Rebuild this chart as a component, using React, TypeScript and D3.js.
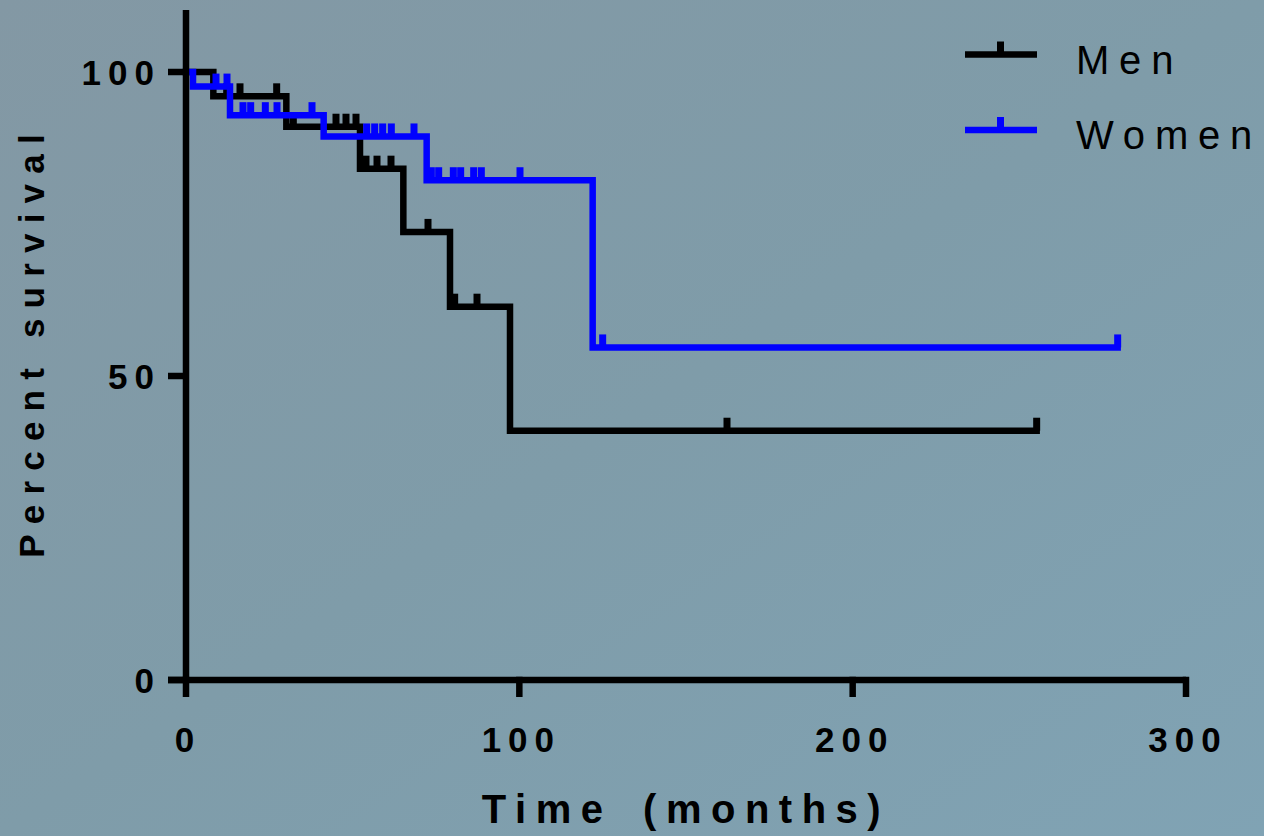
import React from "react";
import * as d3 from "d3";

// ---- data ----
const menStepTimes = [0, 8.2, 30.1, 52.2, 65.2, 79.2, 97.2];
const menStepSurvival = [100, 96.0, 91.0, 84.1, 73.7, 61.4, 41.0];
const menCensored = [12.2, 16.2, 27.2, 32.2, 45, 48, 51, 54, 57.3, 61.5, 72.6, 80.6, 87.3, 162.3, 255.2];

const womenStepTimes = [0, 2.1, 13.2, 41.3, 72.2, 122];
const womenStepSurvival = [100, 97.6, 92.9, 89.4, 82.2, 54.7];
const womenCensored = [9, 12.3, 17.1, 19.4, 23.8, 27.3, 37.8, 54.2, 56.6, 59, 61.6, 68.4, 73.6, 75.8, 80.2, 82.4, 86.3, 88.6, 100.2, 125, 279.5];

const xTicks = [0, 100, 200, 300];
const yTicks = [0, 50, 100];
const seriesNames = ["Men", "Women"];
const seriesColors = ["#000000", "#0000ff"];

const W = 1264;
const H = 836;
const FONT = "'Liberation Sans', Arial, Helvetica, sans-serif";

type Series = { name: string; color: string; times: number[]; surv: number[]; cens: number[] };

const series: Series[] = [
  { name: seriesNames[0], color: seriesColors[0], times: menStepTimes, surv: menStepSurvival, cens: menCensored },
  { name: seriesNames[1], color: seriesColors[1], times: womenStepTimes, surv: womenStepSurvival, cens: womenCensored },
];

export default function App() {
  const x = d3.scaleLinear().domain([0, 300]).range([186, 1186]);
  const y = d3.scaleLinear().domain([0, 100]).range([680, 72]);
  const lw = 6.5;
  const tw = 7;
  const tickLen = 13;

  const levelAt = (s: Series, t: number) => {
    let lvl = s.surv[0];
    for (let i = 0; i < s.times.length; i++) if (s.times[i] <= t) lvl = s.surv[i];
    return lvl;
  };

  const stepLine = d3
    .line<[number, number]>()
    .x((d) => x(d[0]))
    .y((d) => y(d[1]))
    .curve(d3.curveStepAfter);

  return (
    <svg
      width={W}
      height={H}
      style={{ position: "absolute", left: 0, top: 0, display: "block" }}
      fontFamily={FONT}
    >
      <defs>
        <linearGradient id="bg" x1="0" y1="0" x2="1" y2="1">
          <stop offset="0" stopColor="#8398a4" />
          <stop offset="0.5" stopColor="#7f9ca9" />
          <stop offset="1" stopColor="#80a3b4" />
        </linearGradient>
      </defs>
      <rect x={0} y={0} width={W} height={H} fill="url(#bg)" />

      {/* curves */}
      {series.map((s) => {
        const end = d3.max(s.cens) as number;
        const pts: [number, number][] = s.times.map((t, i) => [t, s.surv[i]] as [number, number]);
        pts.push([end, s.surv[s.surv.length - 1]]);
        return (
          <g key={s.name}>
            <path d={stepLine(pts) || ""} fill="none" stroke={s.color} strokeWidth={lw} strokeLinejoin="miter" strokeLinecap="square" />
            {s.cens.map((t, i) => (
              <line
                key={i}
                x1={x(t)}
                x2={x(t)}
                y1={y(levelAt(s, t))}
                y2={y(levelAt(s, t)) - tickLen}
                stroke={s.color}
                strokeWidth={tw}
              />
            ))}
          </g>
        );
      })}

      {/* axes */}
      <g stroke="#000" strokeWidth={lw} fill="none">
        <line x1={x(0)} x2={x(0)} y1={y(0)} y2={y(110.2)} />
        <line x1={x(0) - 18} x2={x(300)} y1={y(0)} y2={y(0)} />
        {xTicks.map((t) => (
          <line key={t} x1={x(t)} x2={x(t)} y1={y(0) - lw / 2} y2={y(0) + 17} />
        ))}
        {yTicks.map((t) => (
          <line key={t} x1={x(0) - 18} x2={x(0)} y1={y(t)} y2={y(t)} />
        ))}
      </g>

      {/* tick labels */}
      <g fontWeight="bold" fontSize={35} fill="#000" letterSpacing={7}>
        {xTicks.map((t) => (
          <text key={t} x={x(t) + 2} y={752} textAnchor="middle">
            {t}
          </text>
        ))}
        {yTicks.map((t) => (
          <text key={t} x={161} y={y(t) + 13} textAnchor="end">
            {t}
          </text>
        ))}
      </g>

      {/* axis titles */}
      <text x={686} y={823} textAnchor="middle" fontWeight="bold" fontSize={40} letterSpacing={9.5} wordSpacing={10} fill="#000">
        Time (months)
      </text>
      <text
        transform={`translate(44,${341}) rotate(-90)`}
        textAnchor="middle"
        fontWeight="bold"
        fontSize={35}
        letterSpacing={10.2}
        fill="#000"
      >
        Percent survival
      </text>

      {/* legend */}
      {series.map((s, i) => {
        const ly = 54.5 + i * 75.5;
        return (
          <g key={s.name}>
            <line x1={965} x2={1037} y1={ly} y2={ly} stroke={s.color} strokeWidth={lw} />
            <line x1={1000.5} x2={1000.5} y1={ly} y2={ly - tickLen} stroke={s.color} strokeWidth={tw} />
            <text x={1076} y={ly + 19} fontSize={40} letterSpacing={9.8} fill="#000">
              {s.name}
            </text>
          </g>
        );
      })}
    </svg>
  );
}
